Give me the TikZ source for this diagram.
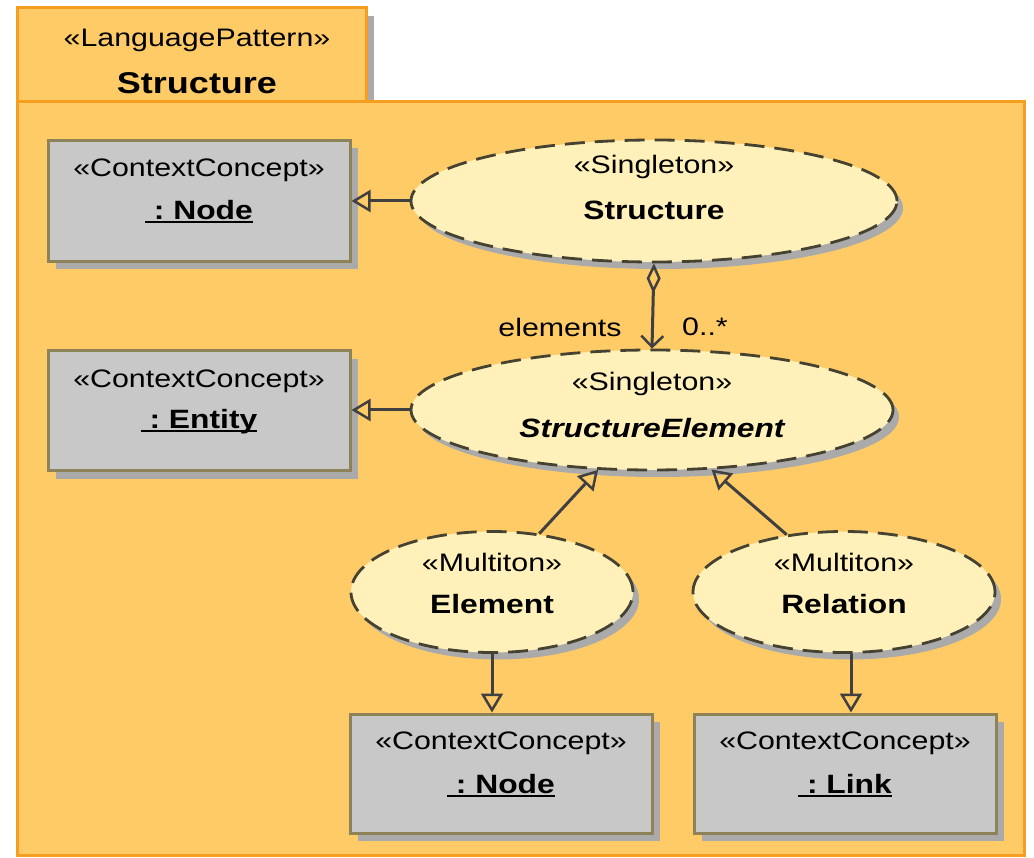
\documentclass[tikz,border=0pt]{standalone}
\usepackage{fontspec}
\setmainfont{Liberation Sans}[FakeStretch=1.2]
\usetikzlibrary{arrows.meta,shadows,calc,shapes.geometric}
\definecolor{pkgfill}{RGB}{255,203,102}
\definecolor{pkgborder}{RGB}{246,158,32}
\definecolor{ellfill}{RGB}{255,241,185}
\definecolor{boxfill}{RGB}{200,200,200}
\definecolor{boxborder}{RGB}{142,131,88}
\definecolor{shadowgray}{RGB}{170,170,170}
\definecolor{linecol}{RGB}{64,64,64}
\definecolor{dashcol}{RGB}{70,66,50}
\newcommand\ulbox[1]{\setbox0\hbox{#1}\rlap{\rule[-3.5pt]{\wd0}{2.2pt}}\box0}
\begin{document}
\begin{tikzpicture}[x=1pt,y=-1pt,
 stereo/.style={font=\fontsize{25.3}{30}\selectfont, inner sep=0},
 bname/.style={font=\fontsize{26.5}{31}\selectfont\bfseries, inner sep=0},
 pkg/.style={draw=pkgborder, fill=pkgfill, line width=3pt},
 concept/.style={rectangle, draw=boxborder, fill=boxfill, line width=3pt, minimum width=302pt, minimum height=121pt, inner sep=0,
   general shadow={fill=shadowgray, shadow xshift=8pt, shadow yshift=-8pt}},
 role/.style={ellipse, draw=dashcol, dash pattern=on 20pt off 10pt, line width=2.8pt, fill=ellfill, inner sep=0,
   general shadow={fill=shadowgray, shadow xshift=6pt, shadow yshift=-7pt}},
 conn/.style={draw=linecol, line width=3pt},
 gen/.style={conn, -{Triangle[open, length=19pt, width=22pt, line width=2.5pt]}},
]
\fill[white] (0,0) rectangle (1034,858);
\useasboundingbox (0,0) rectangle (1034,858);
% package
\draw[pkg, general shadow={fill=shadowgray, shadow xshift=8pt, shadow yshift=-8pt}] (17,8) rectangle (366,102);
\draw[pkg] (17,102) rectangle (1024,855);
\node[stereo] (pkgst) at (197,40) {«LanguagePattern»};
\node[font=\fontsize{30}{34}\selectfont\bfseries, inner sep=0] (pkgname) at (197,83) {Structure};
% concepts
\node[concept] (N1) at (199,201) {};
\node[stereo] at ($(N1)+(0,-31)$) {«ContextConcept»};
\node[bname] at ($(N1)+(0,11)$) {\ulbox{\ :\ Node}};
\node[concept, minimum height=120pt] (N2) at (199,411) {};
\node[stereo] at ($(N2)+(0,-30)$) {«ContextConcept»};
\node[bname] at ($(N2)+(0,11)$) {\ulbox{\ :\ Entity}};
\node[concept, minimum height=119pt] (N3) at (501,773.5) {};
\node[stereo] at ($(N3)+(0,-30)$) {«ContextConcept»};
\node[bname] at ($(N3)+(0,12)$) {\ulbox{\ :\ Node}};
\node[concept, minimum height=119pt] (L) at (845,773.5) {};
\node[stereo] at ($(L)+(0,-30)$) {«ContextConcept»};
\node[bname] at ($(L)+(0,12)$) {\ulbox{\ :\ Link}};
% roles
\node[role, minimum width=486pt, minimum height=122pt] (S) at (654,201) {};
\node[stereo] at ($(S)+(0,-34)$) {«Singleton»};
\node[bname] at ($(S)+(0,9)$) {Structure};
\node[role, minimum width=482pt, minimum height=120pt] (SE) at (652,410) {};
\node[stereo] at ($(SE)+(0,-26)$) {«Singleton»};
\node[bname, font=\fontsize{26.5}{31}\selectfont\bfseries\itshape] at ($(SE)+(0,18)$) {StructureElement};
\node[role, minimum width=282pt, minimum height=121pt] (E) at (492,592) {};
\node[stereo] at ($(E)+(0,-30)$) {«Multiton»};
\node[bname] at ($(E)+(0,12)$) {Element};
\node[role, minimum width=302pt, minimum height=121pt] (R) at (844,592) {};
\node[stereo] at ($(R)+(0,-30)$) {«Multiton»};
\node[bname] at ($(R)+(0,12)$) {Relation};
% connectors
\draw[gen] (S.west) -- (S.west -| N1.east);
\draw[gen] (SE.west) -- (SE.west -| N2.east);
\draw[conn, {Diamond[open, length=30pt, width=14pt, line width=2.5pt]}-{Straight Barb[length=11pt, width=22pt, line width=2.5pt]}] (S.south) -- (SE.north);
\node[stereo] (lblel) at (560,327) {elements};
\node[stereo] (lblmul) at (705,327) {0..*};
\draw[gen] (E.51) -- (SE.228);
\draw[gen] (R.135) -- (SE.315);
\draw[gen] (E.south) -- (E.south |- N3.north);
\coordinate (rb) at ($(R.south)+(7,0)$);
\draw[gen] (rb) -- (rb |- L.north);
\end{tikzpicture}
\end{document}
